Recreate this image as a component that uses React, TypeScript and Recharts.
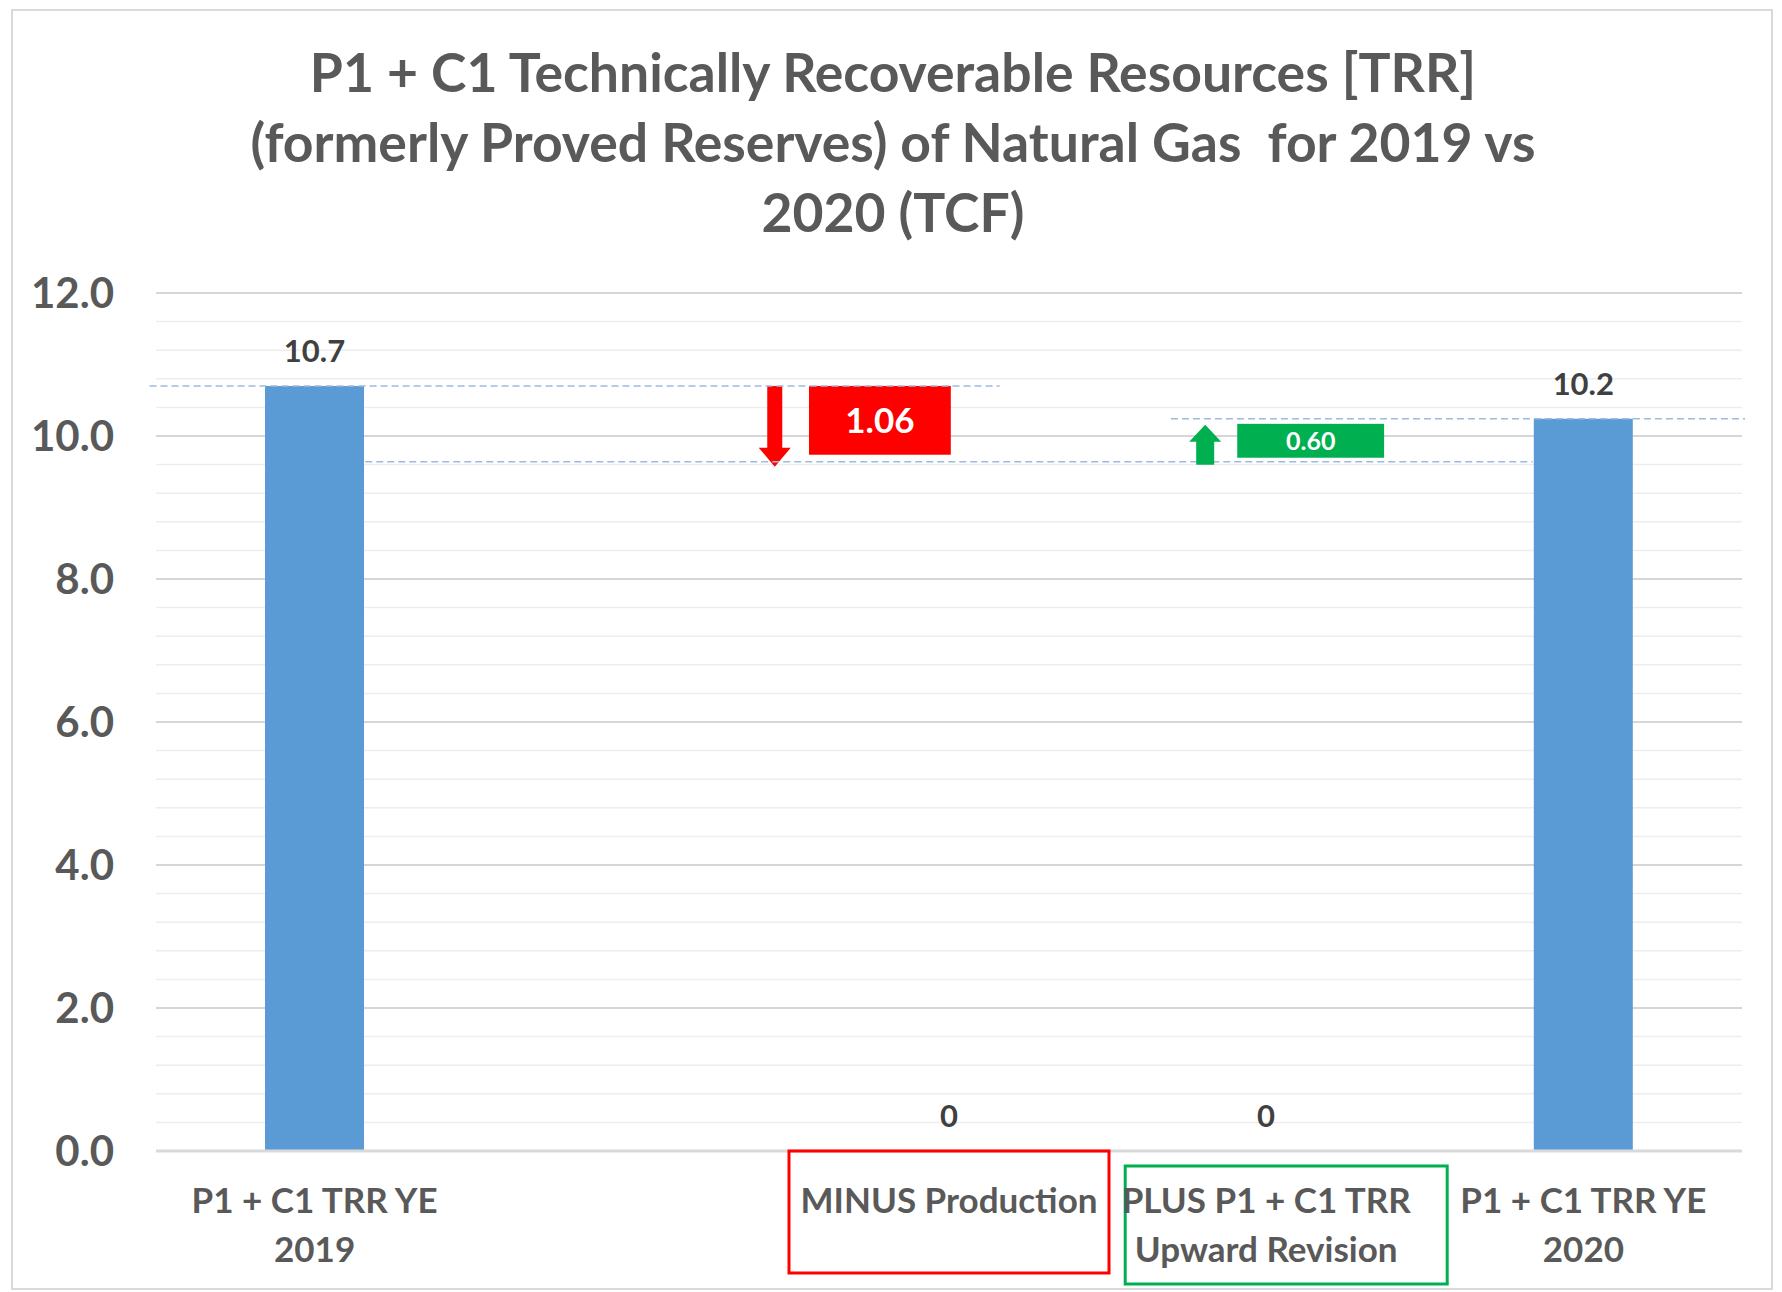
import React from 'react';
import { ComposedChart, Bar, XAxis, YAxis, CartesianGrid, LabelList } from 'recharts';

// categories (one blank slot between the 2019 total and production)
const categories = ['P1 + C1 TRR YE 2019', '', 'MINUS Production', 'PLUS P1 + C1 TRR Upward Revision', 'P1 + C1 TRR YE 2020'];
const tickLines = [['P1 + C1 TRR YE', '2019'], [], ['MINUS Production'], ['PLUS P1 + C1 TRR', 'Upward Revision'], ['P1 + C1 TRR YE', '2020']];

// values in TCF
const totals = [10.7, null, 0, 0, 10.24];
const floors = [null, null, 9.64, 9.64, null];
const changes = [null, null, 1.06, 0.6, null];

const yTicks = [0, 2, 4, 6, 8, 10, 12];
const minorGrid = [0.4, 0.8, 1.2, 1.6, 2.4, 2.8, 3.2, 3.6, 4.4, 4.8, 5.2, 5.6, 6.4, 6.8, 7.2, 7.6, 8.4, 8.8, 9.2, 9.6, 10.4, 10.8, 11.2, 11.6];

const W = 1782;
const H = 1292;
const MARGIN = { top: 293, right: 40, bottom: 11, left: 56 };
const Y_AXIS_W = 100;
const PLOT_W = W - MARGIN.left - MARGIN.right - Y_AXIS_W;
const BAND = PLOT_W / categories.length;

const FONT = 'Lato, "Open Sans", sans-serif';
const TEXT = '#595959';
const BLUE = '#5B9BD5';
const DASH = '#9DBCDD';
const LABEL_STYLE = { fill: '#404040', fontSize: 31, fontWeight: 700, fontFamily: FONT };

const data = categories.map((name, i) => ({
    name,
    total: totals[i],
    floor: floors[i],
    change: changes[i],
}));

const fmtTotal = (v: any) => (v == null ? '' : v === 0 ? '0' : Number(v).toFixed(1));

// look of the floating change boxes (offsets in band widths from category centre)
const changeLook: Record<number, any> = {
    2: {
        color: '#FF0000', box: [-0.441, 0.006], inset: [0, 7], arrow: -0.549, up: false, fontSize: 35,
        dashes: [{ at: 'top', from: -2.52, to: 0.16 }, { at: 'bottom', from: -1.84, to: 1.84 }],
    },
    3: {
        color: '#00B050', box: [-0.091, 0.372], inset: [5, 4], arrow: -0.192, up: true, fontSize: 25,
        dashes: [{ at: 'top', from: -0.3, to: 1.51 }],
    },
};

function ChangeShape(props: any) {
    const { x, y, width, height, index, payload } = props;
    const look = changeLook[index];
    if (!look || payload.change == null) return null;
    const cx = x + width / 2;
    const bx0 = cx + look.box[0] * BAND;
    const bx1 = cx + look.box[1] * BAND;
    const by0 = y + look.inset[0];
    const by1 = y + height - look.inset[1];
    const ax = cx + look.arrow * BAND;
    let arrow: string;
    if (look.up) {
        const tip = y + 6;
        const base = tip + 17;
        const bottom = y + height + 3;
        arrow = `${ax - 9},${bottom} ${ax + 9},${bottom} ${ax + 9},${base} ${ax + 16},${base} ${ax},${tip} ${ax - 16},${base} ${ax - 9},${base}`;
    } else {
        const tip = y + height + 5;
        const base = tip - 19;
        arrow = `${ax - 7.5},${y} ${ax + 7.5},${y} ${ax + 7.5},${base} ${ax + 16},${base} ${ax},${tip} ${ax - 16},${base} ${ax - 7.5},${base}`;
    }
    return (
        <g>
            <rect x={bx0} y={by0} width={bx1 - bx0} height={by1 - by0} fill={look.color} />
            <polygon points={arrow} fill={look.color} />
            <text
                x={(bx0 + bx1) / 2}
                y={(by0 + by1) / 2}
                dy="0.36em"
                textAnchor="middle"
                fill="#ffffff"
                fontFamily={FONT}
                fontWeight={700}
                fontSize={look.fontSize}
            >
                {payload.change.toFixed(2)}
            </text>
            {look.dashes.map((d: any, i: number) => {
                const ly = d.at === 'top' ? y : y + height;
                return (
                    <line
                        key={i}
                        x1={cx + d.from * BAND}
                        x2={cx + d.to * BAND}
                        y1={ly}
                        y2={ly}
                        stroke={DASH}
                        strokeWidth={1.5}
                        strokeDasharray="7 4"
                    />
                );
            })}
        </g>
    );
}

// invisible floor; the zero totals sit at its base, so their "0" label is drawn here
function FloorShape(props: any) {
    const { x, y, width, height, payload } = props;
    if (payload.floor == null || payload.total == null) return null;
    return (
        <text x={x + width / 2} y={y + height - 24} textAnchor="middle" {...LABEL_STYLE}>
            {fmtTotal(payload.total)}
        </text>
    );
}

function CategoryTick(props: any) {
    const { x, y, index } = props;
    const lines = tickLines[index] ?? [];
    return (
        <g>
            {index === 2 && (
                <rect x={x - 160} y={y} width={320} height={122} fill="none" stroke="#FF0000" strokeWidth={3} />
            )}
            {index === 3 && (
                <rect x={x - 141} y={y + 15} width={322} height={118} fill="none" stroke="#00B050" strokeWidth={3} />
            )}
            {lines.map((line, i) => (
                <text
                    key={i}
                    x={x}
                    y={y + 62 + i * 49}
                    textAnchor="middle"
                    fill={TEXT}
                    fontFamily={FONT}
                    fontWeight={700}
                    fontSize={35}
                >
                    {line}
                </text>
            ))}
        </g>
    );
}

export default function App() {
    return (
        <div style={{ position: 'absolute', left: 0, top: 0, width: W, height: H, background: '#ffffff' }}>
            {/* chart frame */}
            <div
                style={{
                    position: 'absolute',
                    left: 11,
                    top: 9,
                    width: 1758,
                    height: 1277,
                    border: '2px solid #D9D9D9',
                }}
            />

            {/* title */}
            <div
                style={{
                    position: 'absolute',
                    left: 0,
                    top: 36,
                    width: 1786,
                    textAlign: 'center',
                    fontFamily: FONT,
                    fontWeight: 700,
                    fontSize: 53.5,
                    lineHeight: '70px',
                    color: TEXT,
                }}
            >
                P1 + C1 Technically Recoverable Resources [TRR]
                <br />
                (formerly Proved Reserves) of Natural Gas&nbsp; for 2019 vs
                <br />
                2020 (TCF)
            </div>

            <div style={{ position: 'absolute', left: 0, top: 0 }}>
                <ComposedChart width={W} height={H} data={data} margin={MARGIN} barSize={99}>
                    <CartesianGrid horizontalValues={minorGrid} vertical={false} stroke="#EDEDED" strokeWidth={1.5} />
                    <CartesianGrid vertical={false} stroke="#D6D6D6" strokeWidth={2} />
                    <XAxis
                        dataKey="name"
                        height={130}
                        axisLine={{ stroke: '#D9D9D9', strokeWidth: 3 }}
                        tickLine={false}
                        tickSize={0}
                        tickMargin={0}
                        interval={0}
                        tick={<CategoryTick />}
                    />
                    <YAxis
                        width={Y_AXIS_W}
                        domain={[0, 12]}
                        ticks={yTicks}
                        axisLine={false}
                        tickLine={false}
                        tickSize={0}
                        tickMargin={42}
                        tickFormatter={(v: number) => v.toFixed(1)}
                        tick={{ fill: TEXT, fontSize: 42, fontWeight: 700, fontFamily: FONT }}
                    />
                    <Bar dataKey="total" stackId="a" fill={BLUE} isAnimationActive={false}>
                        <LabelList
                            dataKey="total"
                            position="top"
                            offset={24}
                            formatter={fmtTotal}
                            style={LABEL_STYLE}
                        />
                    </Bar>
                    <Bar dataKey="floor" stackId="a" shape={<FloorShape />} isAnimationActive={false} />
                    <Bar dataKey="change" stackId="a" shape={<ChangeShape />} isAnimationActive={false} />
                </ComposedChart>
            </div>
        </div>
    );
}
